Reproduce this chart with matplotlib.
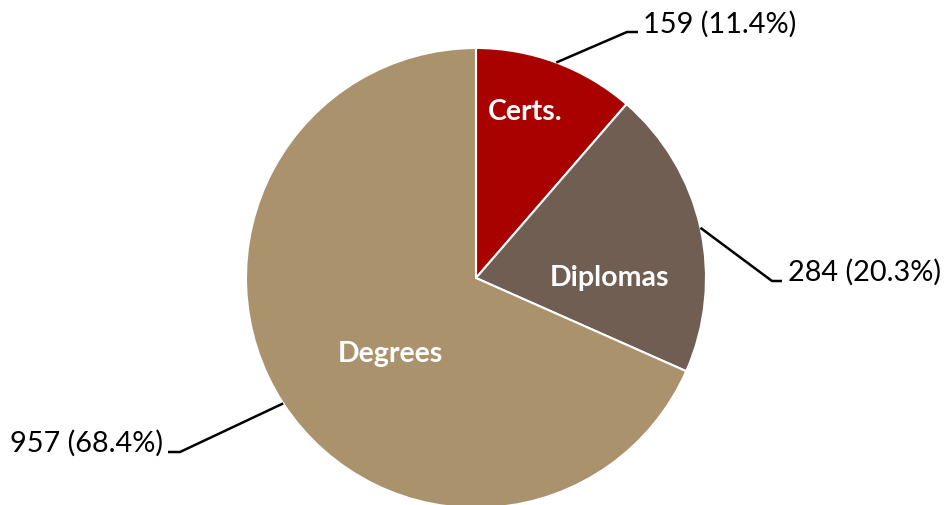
import numpy as np
import matplotlib
matplotlib.use("Agg")
import matplotlib.pyplot as plt

categories = ["Certs.", "Diplomas", "Degrees"]
counts = [159, 284, 957]
percents = [11.4, 20.3, 68.4]
colors = ["#A90000", "#705E53", "#AA926D"]

W, H = 944, 506
fig = plt.figure(figsize=(W / 100, H / 100), dpi=100)
ax = fig.add_axes([0, 0, 1, 1])

cx, cy, r = 476, H - 279, 230
wedges, _ = ax.pie(counts, colors=colors, startangle=90, counterclock=False,
                   center=(cx, cy), radius=r, frame=True,
                   wedgeprops=dict(edgecolor="white", linewidth=1.5))
ax.set_xlim(0, W)
ax.set_ylim(0, H)
ax.set_aspect("equal")
ax.axis("off")

font = "Lato"
# inner labels
inner_pos = [(525, 112), (610, 278), (390, 354)]
for name, (px, py) in zip(categories, inner_pos):
    ax.text(px, H - py, name, color="white", fontsize=20.5, fontweight="bold",
            family=font, ha="center", va="center")

# outer labels with leader lines
elbows = [((627, 33), (638, 33)), ((772, 282), (782, 282)), ((180, 453), (168, 453))]
text_pos = [(643, 24, "left"), (788, 272, "left"), (163, 443, "right")]
for w, c, p, (e1, e2), (tx, ty, ha) in zip(wedges, counts, percents, elbows, text_pos):
    ang = np.deg2rad((w.theta1 + w.theta2) / 2)
    sx, sy = cx + r * np.cos(ang), cy + r * np.sin(ang)
    ax.plot([sx, e1[0], e2[0]], [sy, H - e1[1], H - e2[1]], color="black", lw=1.8,
            solid_capstyle="butt")
    ax.text(tx, H - ty, f"{c} ({p}%)", fontsize=20.8, family=font, ha=ha,
            va="center", color="black")

fig.savefig("out.png", dpi=100, facecolor="white")
